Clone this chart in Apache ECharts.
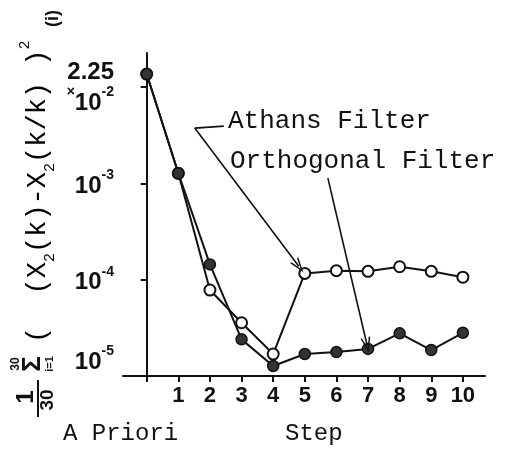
<!DOCTYPE html>
<html>
<head>
    <meta charset="UTF-8">
    <title>Athans vs Orthogonal Filter</title>
    <script src="https://cdn.jsdelivr.net/npm/echarts@6/dist/echarts.min.js"></script>
    <style>html,body{margin:0;background:#fff;}</style>
</head>
<body>
    <div id="main" style="width:505px;height:450px;"></div>
    <script>
        // data (step 0 = a priori)
        var steps = [0, 1, 2, 3, 4, 5, 6, 7, 8, 9, 10];
        var athansVals = [1.36e-2, 1.27e-3, 7.8e-5, 3.57e-5, 1.69e-5, 1.16e-4, 1.24e-4, 1.22e-4, 1.36e-4, 1.22e-4, 1.06e-4];
        var orthoVals = [1.36e-2, 1.27e-3, 1.44e-4, 2.40e-5, 1.27e-5, 1.69e-5, 1.77e-5, 1.91e-5, 2.77e-5, 1.86e-5, 2.81e-5];
        var stepTicks = [0, 1, 2, 3, 4, 5, 6, 7, 8, 9, 10];
        var stepLabels = [1, 2, 3, 4, 5, 6, 7, 8, 9, 10];
        var yTicks = [1e-2, 1e-3, 1e-4];
        var yLabels = [1e-2, 1e-3, 1e-4, 1e-5];

        // leader lines of the two annotations (data coords)
        var athansPointer = [[2.44, 3.92e-3], [1.52, 3.74e-3], [4.81, 1.38e-4]];
        var orthoPointer = [[5.73, 1.13e-3], [6.97, 2.1e-5]];

        function pairs(xs, ys) {
            var out = [];
            for (var i = 0; i < xs.length; i++) out.push([xs[i], ys[i]]);
            return out;
        }

        var ink = '#111';
        var mono = 'Liberation Mono';
        var sans = 'Liberation Sans';
        // open "V" arrow head like the hand-drawn ones
        var vHead = 'path://M5,0L10,14L8.4,14L5,4L1.6,14L0,14Z';

        var chart = echarts.init(document.getElementById('main'));
        chart.setOption({
            animation: false,
            backgroundColor: '#fff',
            grid: {left: 123, right: 20, top: 53, bottom: 74},
            xAxis: {
                type: 'value',
                min: -0.75,
                max: 10.7,
                splitLine: {show: false},
                axisLine: {onZero: false, lineStyle: {color: ink, width: 2}},
                axisTick: {customValues: stepTicks, length: 6, lineStyle: {color: ink, width: 2}},
                axisLabel: {
                    customValues: stepLabels,
                    margin: 9,
                    color: ink,
                    fontFamily: sans,
                    fontWeight: 'bold',
                    fontSize: 22
                }
            },
            yAxis: {
                type: 'log',
                logBase: 10,
                min: 1e-5,
                max: 0.0225,
                splitLine: {show: false},
                axisLine: {onZero: true, lineStyle: {color: ink, width: 2}},
                axisTick: {customValues: yTicks, length: 6, lineStyle: {color: ink, width: 2}},
                axisLabel: {
                    customValues: yLabels,
                    margin: 9,
                    color: ink,
                    formatter: function (v) {
                        var e = Math.round(Math.log(v) / Math.LN10);
                        if (Math.abs(Math.log(v) / Math.LN10 - e) > 0.01) return '';
                        if (e === -2) return '{c|2.25}\n{x|×}{b|10}{s|-2}';
                        if (e === -5) return '{b|10}{s|-5}\n{e| }';
                        return '{b|10}{s|' + e + '}';
                    },
                    rich: {
                        b: {fontFamily: sans, fontWeight: 'bold', fontSize: 24, lineHeight: 30, verticalAlign: 'bottom', color: ink},
                        c: {fontFamily: sans, fontWeight: 'bold', fontSize: 24, lineHeight: 26, color: ink},
                        s: {fontFamily: sans, fontWeight: 'bold', fontSize: 14, lineHeight: 14, verticalAlign: 'top', color: ink},
                        x: {fontFamily: sans, fontWeight: 'bold', fontSize: 14, lineHeight: 26, verticalAlign: 'top', color: ink},
                        e: {fontSize: 10, lineHeight: 34}
                    }
                }
            },
            graphic: [
                {type: 'text', left: 228, top: 108, style: {text: 'Athans Filter', font: '26px ' + mono, fill: ink}},
                {type: 'text', left: 230, top: 148, style: {text: 'Orthogonal Filter', font: '26px ' + mono, fill: ink}},
                {type: 'text', left: 63, top: 422, style: {text: 'A Priori', font: '24px ' + mono, fill: ink}},
                {type: 'text', left: 285, top: 422, style: {text: 'Step', font: '24px ' + mono, fill: ink}},
                {
                    type: 'group', x: 38, y: 420, rotation: Math.PI / 2,
                    children: [
                        {type: 'text', x: 23, y: -12, style: {text: '1', font: 'bold 24px ' + sans, fill: ink, align: 'center', verticalAlign: 'middle'}},
                        {type: 'line', shape: {x1: 3, y1: 0, x2: 40, y2: 0}, style: {stroke: ink, lineWidth: 2}},
                        {type: 'text', x: 20, y: 10, style: {text: '30', font: 'bold 19px ' + sans, fill: ink, align: 'center', verticalAlign: 'middle'}},
                        {type: 'text', x: 56, y: -22, style: {text: '30', font: 'bold 12px ' + sans, fill: ink, align: 'center', verticalAlign: 'middle'}},
                        {type: 'text', x: 56, y: -5, style: {text: 'Σ', font: 'bold 26px ' + sans, fill: ink, align: 'center', verticalAlign: 'middle'}},
                        {type: 'text', x: 56, y: 12, style: {text: 'i=1', font: 'bold 11px ' + sans, fill: ink, align: 'center', verticalAlign: 'middle'}},
                        {
                            type: 'text', x: 77, y: 0,
                            style: {
                                text: '{m|(  (X}{sub|2}{m|(k)-X}{sub|2}{m|(k/k) )}{sup|2}',
                                align: 'left', verticalAlign: 'middle',
                                rich: {
                                    m: {fontFamily: mono, fontSize: 27, lineHeight: 40, color: ink},
                                    sub: {fontFamily: mono, fontSize: 15, lineHeight: 15, verticalAlign: 'bottom', color: ink},
                                    sup: {fontFamily: mono, fontSize: 15, lineHeight: 15, verticalAlign: 'top', color: ink}
                                }
                            }
                        },
                        {type: 'text', x: 393, y: 15, style: {text: '(i)', font: 'bold 18px ' + sans, fill: ink, align: 'left', verticalAlign: 'middle'}}
                    ]
                }
            ],
            series: [
                {
                    name: 'Athans Filter',
                    type: 'line',
                    data: pairs(steps, athansVals),
                    symbol: 'circle',
                    symbolSize: 11,
                    lineStyle: {color: ink, width: 2},
                    itemStyle: {color: '#fff', borderColor: ink, borderWidth: 2},
                    z: 3,
                    markLine: {
                        silent: true,
                        symbol: ['none', 'none'],
                        label: {show: false},
                        lineStyle: {color: ink, width: 1.6, type: 'solid'},
                        data: [
                            [{coord: athansPointer[0]}, {coord: athansPointer[1]}],
                            [{coord: athansPointer[1]}, {coord: athansPointer[2], symbol: vHead, symbolSize: [10, 15]}]
                        ]
                    }
                },
                {
                    name: 'Orthogonal Filter',
                    type: 'line',
                    data: pairs(steps, orthoVals),
                    symbol: 'circle',
                    symbolSize: 11,
                    lineStyle: {color: ink, width: 2},
                    itemStyle: {color: '#333', borderColor: ink, borderWidth: 1.5},
                    z: 4,
                    markLine: {
                        silent: true,
                        symbol: ['none', 'none'],
                        label: {show: false},
                        lineStyle: {color: ink, width: 1.6, type: 'solid'},
                        data: [
                            [{coord: orthoPointer[0]}, {coord: orthoPointer[1], symbol: vHead, symbolSize: [10, 15]}]
                        ]
                    }
                }
            ]
        });
    </script>
</body>
</html>
